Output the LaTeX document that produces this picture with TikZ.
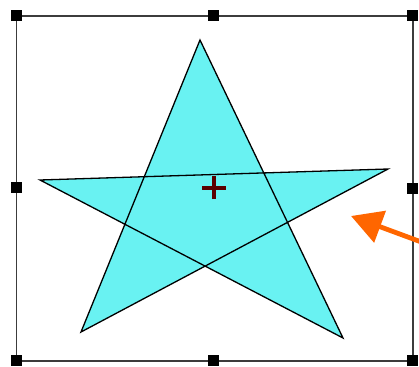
\documentclass[tikz,border=0pt]{standalone}
\usetikzlibrary{arrows.meta}
\definecolor{starfill}{RGB}{105,242,242}
\definecolor{crossred}{RGB}{90,0,0}
\definecolor{arroworange}{RGB}{255,102,0}
\definecolor{boxgrey}{RGB}{60,60,60}
\tikzset{
  handle/.style={fill=black, draw=none, minimum width=11pt, minimum height=11pt, inner sep=0pt, outer sep=0pt},
  selbox/.style={draw=boxgrey, line width=1.9pt},
  staredge/.style={draw=black, line width=1.3pt, fill=starfill, line join=miter},
  pointer/.style={draw=arroworange, line width=4.8pt, -{Triangle[length=31pt,width=33pt]}}
}
\begin{document}
\begin{tikzpicture}[x=1pt,y=-1pt]
\useasboundingbox (0,0) rectangle (419,366);
% selection box
\draw[selbox] (16.5,16) rectangle (413,361);
% star
\coordinate (top) at (200,40);
\coordinate (left) at (40,180);
\coordinate (right) at (388,169);
\coordinate (bl) at (81,332);
\coordinate (br) at (343,338);
\filldraw[staredge, nonzero rule] (top) -- (bl) -- (right) -- (left) -- (br) -- cycle;
% centre cross
\coordinate (c) at (214,188);
\draw[crossred, line width=3.4pt] ([xshift=-12pt]c) -- ([xshift=12pt]c);
\draw[crossred, line width=3.4pt] ([yshift=-11pt]c) -- ([yshift=12pt]c);
% handles
\node[handle] (h1) at (16,16) {};
\node[handle] (h2) at (213,16) {};
\node[handle] (h3) at (412,16) {};
\node[handle] (h4) at (16,187) {};
\node[handle] (h5) at (412,188) {};
\node[handle] (h6) at (16,360) {};
\node[handle] (h7) at (213,360) {};
\node[handle] (h8) at (412,360) {};
% orange arrow
\coordinate (ashaft) at (424,243);
\coordinate (atip) at (351,216);
\draw[pointer] (ashaft) -- (atip);
\end{tikzpicture}
\end{document}
